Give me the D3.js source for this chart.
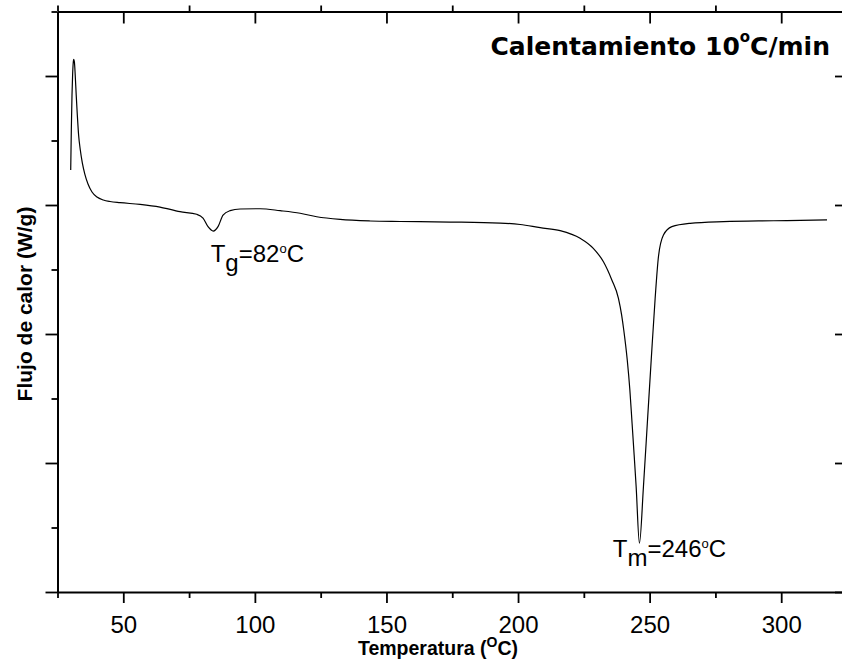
<!DOCTYPE html>
<html>
<head>
<meta charset="utf-8">
<script src="https://cdn.jsdelivr.net/npm/d3@7"></script>
<style>
  html, body { margin: 0; padding: 0; background: #fff; }
  svg { display: block; }
</style>
</head>
<body>
<div id="chart"></div>
<script>
// ---- data ----
const temperature = [30.02, 30.25, 30.51, 30.74, 30.97, 31.16, 31.42, 31.73, 32.11, 32.53, 33.02, 33.67, 34.43, 35.38, 36.59, 38.11, 40.01, 42.41, 44.95, 48.75, 56.4, 63.95, 71.55, 77.9, 80.3, 82.2, 84.2, 86.0, 87.9, 90.6, 94.4, 102.0, 109.6, 117.2, 123.5, 132.4, 143.8, 155.2, 174.2, 193.2, 200.8, 208.4, 216.0, 223.6, 228.6, 232.45, 235.64, 238.15, 239.37, 240.17, 241.5, 242.49, 243.25, 244.12, 244.88, 246.13, 247.65, 249.2, 250.6, 252.1, 253.35, 255.25, 258.45, 265.4, 278.1, 297.1, 317.4];
const heatFlow = [0.271, 0.581, 0.853, 1.008, 1.101, 1.129, 1.109, 1.008, 0.853, 0.698, 0.543, 0.426, 0.326, 0.240, 0.163, 0.101, 0.062, 0.039, 0.027, 0.018, 0.005, -0.016, -0.052, -0.072, -0.101, -0.168, -0.202, -0.168, -0.078, -0.044, -0.031, -0.029, -0.044, -0.064, -0.091, -0.112, -0.124, -0.128, -0.132, -0.140, -0.151, -0.176, -0.199, -0.258, -0.336, -0.440, -0.581, -0.723, -0.853, -0.969, -1.202, -1.434, -1.667, -1.938, -2.184, -2.622, -2.184, -1.667, -1.202, -0.723, -0.401, -0.233, -0.168, -0.142, -0.129, -0.122, -0.116];

const xMajorTicks = [50, 100, 150, 200, 250, 300];
const xMinorTicks = [25, 75, 125, 175, 225, 275, 325];
const yMajorTicks = [-3, -2, -1, 0, 1];
const yMinorTicks = [-2.5, -1.5, -0.5, 0.5, 1.5];
const xDomain = [25, 325];
const yDomain = [-3, 1.5];

const chartTitle = ["Calentamiento 10", "o", "C/min"];
const xTitle = ["Temperatura (", "O", "C)"];
const yTitle = "Flujo de calor (W/g)";
const annotations = [
  { t: 83.2, v: -0.444, main: "T", sub: "g", rest: "=82" },
  { t: 236.0, v: -2.731, main: "T", sub: "m", rest: "=246" }
];

// ---- layout ----
const W = 842, H = 668;
const pLeft = 57.5, pRight = 847, pTop = 11.5, pBottom = 592;

const svg = d3.select("#chart").append("svg")
  .attr("width", W).attr("height", H)
  .attr("viewBox", `0 0 ${W} ${H}`);

const x = d3.scaleLinear().domain(xDomain).range([pLeft, pRight]);
const y = d3.scaleLinear().domain(yDomain).range([pBottom, pTop]);

const tickFont = "'Liberation Sans', Arial, Helvetica, sans-serif";

function styleAxis(g, keepDomain) {
  if (!keepDomain) g.select(".domain").remove();
  g.select(".domain").attr("stroke", "#000").attr("stroke-width", 2);
  g.selectAll(".tick line").attr("stroke", "#000").attr("stroke-width", 1.8);
  g.selectAll(".tick text").attr("fill", "#000")
    .style("font-family", tickFont).style("font-size", "24px");
}

// bottom axis
svg.append("g").attr("transform", `translate(0,${pBottom})`)
  .call(d3.axisBottom(x).tickValues(xMinorTicks).tickSize(6).tickFormat(""))
  .call(g => styleAxis(g, false));
svg.append("g").attr("transform", `translate(0,${pBottom})`)
  .call(d3.axisBottom(x).tickValues(xMajorTicks).tickSize(11).tickSizeOuter(0).tickPadding(13).tickFormat(d3.format("d")))
  .call(g => styleAxis(g, true));

// top axis (major ticks inward, minor outward)
svg.append("g").attr("transform", `translate(0,${pTop})`)
  .call(d3.axisTop(x).tickValues(xMinorTicks).tickSize(6).tickFormat(""))
  .call(g => styleAxis(g, false));
svg.append("g").attr("transform", `translate(0,${pTop})`)
  .call(d3.axisTop(x).tickValues(xMajorTicks).tickSize(-12).tickSizeOuter(0).tickFormat(""))
  .call(g => styleAxis(g, true));

// left axis
svg.append("g").attr("transform", `translate(${pLeft},0)`)
  .call(d3.axisLeft(y).tickValues(yMinorTicks).tickSize(6).tickFormat(""))
  .call(g => styleAxis(g, false));
svg.append("g").attr("transform", `translate(${pLeft},0)`)
  .call(d3.axisLeft(y).tickValues(yMajorTicks).tickSize(12).tickSizeOuter(0).tickFormat(""))
  .call(g => styleAxis(g, true));

// right axis (mostly off-canvas; inward major ticks visible)
svg.append("g").attr("transform", `translate(${pRight},0)`)
  .call(d3.axisRight(y).tickValues(yMajorTicks).tickSize(-12).tickSizeOuter(0).tickFormat(""))
  .call(g => styleAxis(g, true));

// curve
const pts = temperature.map((t, i) => [t, heatFlow[i]]);
svg.append("path")
  .datum(pts)
  .attr("fill", "none")
  .attr("stroke", "#000")
  .attr("stroke-width", 1.2)
  .attr("stroke-linejoin", "round")
  .attr("d", d3.line().x(d => x(d[0])).y(d => y(d[1])).curve(d3.curveMonotoneX));

// annotations
annotations.forEach(a => {
  const t = svg.append("text")
    .attr("x", x(a.t))
    .attr("y", y(a.v))
    .style("font-family", tickFont).style("font-size", "24px").attr("fill", "#000");
  t.append("tspan").text(a.main);
  t.append("tspan").attr("dy", 9).text(a.sub);
  t.append("tspan").attr("dy", -9).text(a.rest);
  t.append("tspan").attr("dy", -9).style("font-size", "13px").text("o");
  t.append("tspan").attr("dy", 9).text("C");
});

// chart title
const ttl = svg.append("text")
  .attr("x", 830).attr("y", 55)
  .attr("text-anchor", "end")
  .style("font-family", "'DejaVu Sans', Verdana, sans-serif")
  .style("font-weight", "bold").style("font-size", "25px").attr("fill", "#000");
ttl.append("tspan").text(chartTitle[0]);
ttl.append("tspan").attr("dy", -13).style("font-size", "15px").text(chartTitle[1]);
ttl.append("tspan").attr("dy", 13).text(chartTitle[2]);

// x title
const xt = svg.append("text")
  .attr("x", 438).attr("y", 655)
  .attr("text-anchor", "middle")
  .style("font-family", tickFont).style("font-weight", "bold").style("font-size", "19.5px").attr("fill", "#000");
xt.append("tspan").text(xTitle[0]);
xt.append("tspan").attr("dy", -8).style("font-size", "14px").text(xTitle[1]);
xt.append("tspan").attr("dy", 8).text(xTitle[2]);

// y title
svg.append("text")
  .attr("transform", "translate(32,304) rotate(-90)")
  .attr("text-anchor", "middle")
  .style("font-family", tickFont).style("font-weight", "bold").style("font-size", "21px").attr("fill", "#000")
  .text(yTitle);
</script>
</body>
</html>
